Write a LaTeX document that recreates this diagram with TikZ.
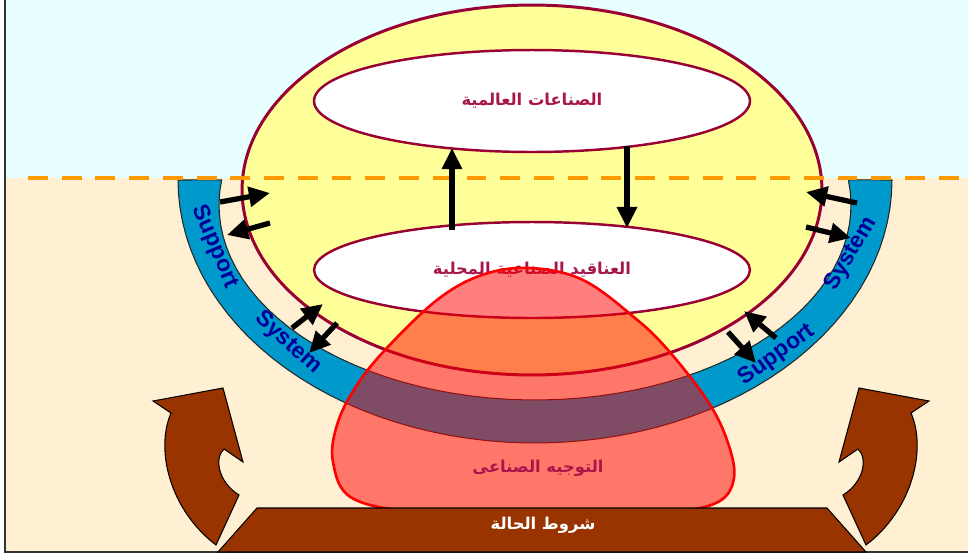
\documentclass[tikz,border=0pt]{standalone}
\usepackage{fontspec}
\setsansfont{Liberation Sans}
\newfontfamily\arabicfont[Script=Arabic]{DejaVu Sans}
\TeXXeTstate=1
\usepackage{tikz}
\usetikzlibrary{calc, arrows.meta, shapes.geometric, positioning}

\definecolor{sky}{HTML}{E8FFFF}
\definecolor{ground}{HTML}{FFF0D4}
\definecolor{paleyellow}{HTML}{FFFF99}
\definecolor{maroon}{HTML}{990033}
\definecolor{wine}{HTML}{A8174C}
\definecolor{bandblue}{HTML}{0099CC}
\definecolor{navy}{HTML}{000099}
\definecolor{rust}{HTML}{993300}
\definecolor{dashorange}{HTML}{FF9900}

\begin{document}
\begin{tikzpicture}[x=0.02cm, y=-0.02cm,
    flow/.style={line width=3.4pt, -{Triangle[length=12pt, width=11pt]}},
    whitebox/.style={ellipse, draw=maroon, fill=white, line width=1.4pt, minimum width=8.72cm},
    artext/.style={font=\arabicfont\bfseries\fontsize{9.3}{11}\selectfont, text=wine},
    bandtext/.style={font=\sffamily\bfseries\fontsize{13}{15}\selectfont, text=navy, inner sep=1pt},
    brownshape/.style={fill=rust, draw=black, line width=0.6pt}]
    \useasboundingbox (0,0) rectangle (968,555);
    % 1. Nền và khung
    \fill[sky] (5,0) rectangle (968,178);
    \fill[ground] (5,178) rectangle (968,552);
    \draw[line width=1pt, black!80] (5,0) -- (5,552) -- (968,552);

    % 2. Các elip
    \node[ellipse, draw=maroon, fill=paleyellow, line width=1.7pt,
          minimum width=11.6cm, minimum height=7.4cm] (cluster) at (532,190) {};
    \node[whitebox, minimum height=2.04cm, artext] (world) at (532,101)
        {\beginR الصناعات العالمية\endR};
    \node[whitebox, minimum height=1.92cm, artext] (local) at (532,270)
        {\beginR العناقيد الصناعية المحلية\endR};

    % 3. Vành Support System
    \draw[fill=bandblue, draw=black!85, line width=0.6pt]
        plot[domain=180:0, samples=60] ({535+357*cos(\x)}, {180+263*sin(\x)})
        -- plot[domain=-7.4:187.4, samples=60] ({535+316*cos(\x)}, {205+195*sin(\x)})
        -- cycle;
    \node[bandtext, rotate=-67] (supL) at (215,247) {Support};
    \node[bandtext, rotate=-42] (sysL) at (288,343) {System};
    \node[bandtext, rotate=60] (sysR) at (851,254) {System};
    \node[bandtext, rotate=36] (supR) at (777,355) {Support};

    % 4. Đường ranh giới
    \draw[dashorange, line width=2.8pt, dash pattern=on 11.3pt off 7.9pt] (28,178) -- (968,178);

    % 5. Các mũi tên
    \coordinate (upA) at (452,230);
    \coordinate (upB) at (452,148);
    \coordinate (downA) at (627,146);
    \coordinate (downB) at (627,228);
    \draw[flow] (upA) -- (upB);
    \draw[flow] (downA) -- (downB);
    \coordinate (l1a) at (220,202); \coordinate (l1b) at (270,193);
    \coordinate (l2a) at (270,223); \coordinate (l2b) at (227,235);
    \coordinate (l3a) at (292,328); \coordinate (l3b) at (323,304);
    \coordinate (l4a) at (337,323); \coordinate (l4b) at (309,353);
    \coordinate (r1a) at (857,203); \coordinate (r1b) at (806,192);
    \coordinate (r2a) at (806,227); \coordinate (r2b) at (851,238);
    \coordinate (r3a) at (776,338); \coordinate (r3b) at (744,311);
    \coordinate (r4a) at (728,332); \coordinate (r4b) at (756,363);
    \foreach \s/\t in {l1a/l1b, l2a/l2b, l3a/l3b, l4a/l4b, r1a/r1b, r2a/r2b, r3a/r3b, r4a/r4b}
        \draw[flow, line width=3pt] (\s) -- (\t);

    % 6. Vùng định hướng công nghiệp
    \draw[red, line width=1.5pt, fill=red, fill opacity=0.5]
        plot[smooth cycle, tension=0.6] coordinates {
            (537,512) (420,512) (352,498) (333,462) (337,425) (355,388)
            (385,350) (437,300) (482,275) (530,268) (583,280) (635,318)
            (668,350) (707,400) (727,440) (734,478) (716,503) (660,512)};
    \node[artext] (guide) at (538,468) {\beginR التوجيه الصناعى\endR};

    % 7. Mũi tên cong và đế
    \draw[brownshape] (153,401) -- (223,388) -- (243,462) -- (224,449)
        .. controls (214,458) and (218,482) .. (239,495) -- (216,545)
        .. controls (170,510) and (155,450) .. (171,413) -- cycle;
    \draw[brownshape] (929,401) -- (859,388) -- (839,462) -- (858,449)
        .. controls (868,458) and (864,482) .. (843,495) -- (866,545)
        .. controls (912,510) and (927,450) .. (911,413) -- cycle;
    \draw[brownshape] (257,508) -- (827,508) -- (866,552) -- (218,552) -- cycle;
    \node[artext, text=white] (base) at (543,525) {\beginR شروط الحالة\endR};
\end{tikzpicture}
\end{document}
